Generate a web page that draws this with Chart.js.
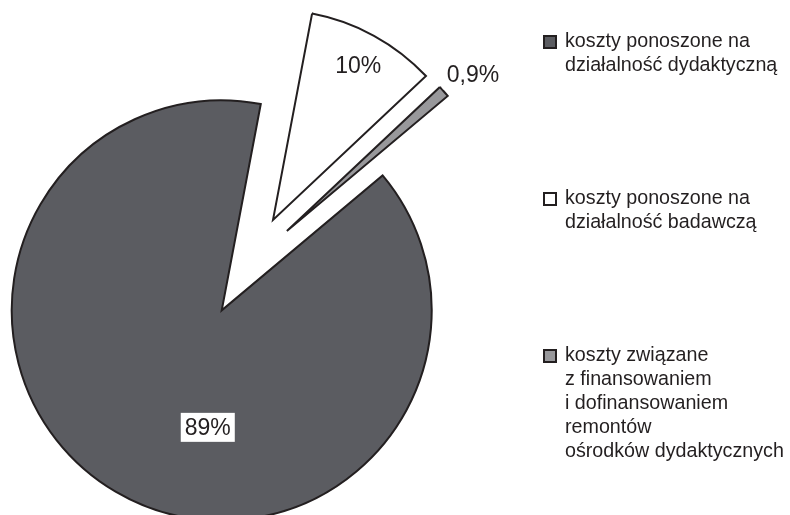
<!DOCTYPE html>
<html>
<head>
<meta charset="utf-8">
<script src="https://cdn.jsdelivr.net/npm/chart.js@4.4.1/dist/chart.umd.min.js"></script>
<style>
  body { margin: 0; background: #fff; }
  #wrap { width: 790px; height: 515px; position: relative; }
</style>
</head>
<body>
<div id="wrap"><canvas id="myChart"></canvas></div>
<script>
const kategorie = [
    ['koszty ponoszone na', 'działalność dydaktyczną'],
    ['koszty ponoszone na', 'działalność badawczą'],
    ['koszty związane', 'z finansowaniem', 'i dofinansowaniem', 'remontów', 'ośrodków dydaktycznych']
];
const udzialy = [89, 10, 0.9];
const kolory = ['#5b5c61', '#ffffff', '#98989b'];

const textColor = '#231f20';
const fontFamily = '"Liberation Sans", Arial, Helvetica, sans-serif';

function etykieta(v) {
    return String(v).replace('.', ',') + '%';
}

// rozsuniecie wycinkow (kazdy odsuniety od srodka o ta sama odleglosc)
const explodePlugin = {
    id: 'explode',
    afterDatasetsUpdate(chart, args, opts) {
        const meta = chart.getDatasetMeta(0);
        meta.data.forEach((arc) => {
            const mid = (arc.startAngle + arc.endAngle) / 2;
            arc.x += Math.cos(mid) * opts.distance;
            arc.y += Math.sin(mid) * opts.distance;
        });
    }
};

const labelsPlugin = {
    id: 'pieLabels',
    afterDatasetsDraw(chart, args, opts) {
        const ctx = chart.ctx;
        const meta = chart.getDatasetMeta(0);
        ctx.save();
        ctx.font = opts.size + 'px ' + fontFamily;
        ctx.textAlign = 'center';
        ctx.textBaseline = 'middle';
        meta.data.forEach((arc, i) => {
            const p = opts.placement[i];
            const a = (p.angle - 90) * Math.PI / 180;
            const r = arc.outerRadius * p.radius;
            const x = arc.x + Math.cos(a) * r;
            const y = arc.y + Math.sin(a) * r;
            const txt = etykieta(udzialy[i]);
            const w = ctx.measureText(txt).width + 8;
            const h = 29;
            ctx.fillStyle = '#ffffff';
            ctx.fillRect(x - w / 2, y - h / 2, w, h);
            ctx.fillStyle = textColor;
            ctx.fillText(txt, x, y + 1);
        });
        ctx.restore();
    }
};

const legendPlugin = {
    id: 'sideLegend',
    afterDraw(chart, args, opts) {
        const ctx = chart.ctx;
        ctx.save();
        ctx.font = opts.size + 'px ' + fontFamily;
        ctx.textAlign = 'left';
        ctx.textBaseline = 'middle';
        kategorie.forEach((lines, i) => {
            const y = opts.top + i * opts.gap;
            ctx.fillStyle = kolory[i];
            ctx.fillRect(opts.x + 1, y - 6, 12, 12);
            ctx.lineWidth = 2;
            ctx.strokeStyle = textColor;
            ctx.strokeRect(opts.x + 1, y - 6, 12, 12);
            ctx.fillStyle = textColor;
            lines.forEach((line, j) => {
                ctx.fillText(line, opts.textX, y + j * opts.lineHeight);
            });
        });
        ctx.restore();
    }
};

const myChart = new Chart(document.getElementById('myChart'), {
    type: 'pie',
    data: {
        labels: kategorie,
        datasets: [{
            data: udzialy,
            backgroundColor: kolory,
            borderColor: textColor,
            borderWidth: 2,
            borderJoinStyle: 'miter',
            hoverOffset: 0,
            clip: false
        }]
    },
    options: {
        responsive: true,
        maintainAspectRatio: false,
        animation: false,
        rotation: 50,
        radius: 210,
        layout: {
            padding: { left: 0, right: 294, top: 16, bottom: 0 }
        },
        plugins: {
            legend: { display: false },
            tooltip: { enabled: false },
            explode: { distance: 52 },
            pieLabels: {
                size: 23,
                placement: [
                    { angle: 186.8, radius: 0.561 },
                    { angle: 28.9, radius: 0.84 },
                    { angle: 50, radius: 1.157 }
                ]
            },
            sideLegend: {
                size: 19.7,
                x: 543,
                textX: 565,
                top: 42,
                gap: 157,
                lineHeight: 23.8
            }
        }
    },
    plugins: [explodePlugin, labelsPlugin, legendPlugin]
});
</script>
</body>
</html>
